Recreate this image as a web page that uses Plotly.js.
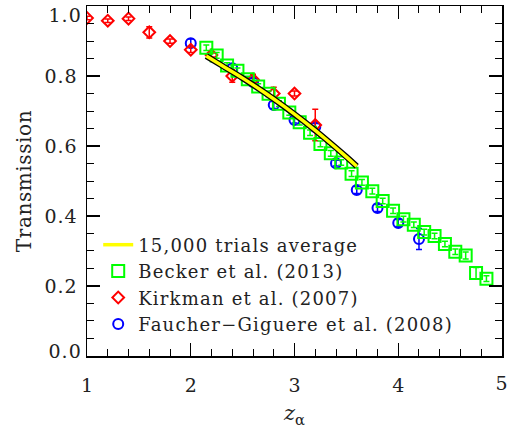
<!DOCTYPE html>
<html>
<head>
<meta charset="utf-8">
<script src="https://cdn.plot.ly/plotly-3.0.1.min.js"></script>
<style>
html,body{margin:0;padding:0;background:#fff;}
#chart{width:507px;height:428px;}
#chart .legendtext{letter-spacing:1.2px;}
#chart .legend .scrollbox{clip-path:none !important;}
#chart .ytick text, #chart .annotation-text{letter-spacing:1px;}
#chart .ytitle{letter-spacing:0.6px;}
</style>
</head>
<body>
<div id="chart"></div>
<script>
// Model: 15,000 trials average
var modelZ = [2.15, 2.3, 2.5, 2.7, 2.9, 3.1, 3.3, 3.5, 3.6];
var modelT = [0.857, 0.830, 0.794, 0.755, 0.713, 0.668, 0.620, 0.569, 0.542];

// Becker et al. (2013)
var beckerZ = [2.15, 2.25, 2.35, 2.45, 2.55, 2.65, 2.75, 2.85, 2.95, 3.05, 3.15, 3.25, 3.35, 3.45,
               3.55, 3.65, 3.75, 3.85, 3.95, 4.05, 4.15, 4.25, 4.35, 4.45, 4.55, 4.65, 4.75, 4.85];
var beckerT = [0.881, 0.859, 0.830, 0.815, 0.791, 0.770, 0.749, 0.721, 0.696, 0.668, 0.638, 0.606, 0.579, 0.553,
               0.521, 0.496, 0.471, 0.443, 0.415, 0.391, 0.375, 0.354, 0.343, 0.320, 0.298, 0.287, 0.237, 0.221];
var beckerErr = [0.008, 0.008, 0.008, 0.008, 0.008, 0.008, 0.008, 0.008, 0.008, 0.008, 0.008, 0.008, 0.008, 0.008,
                 0.008, 0.008, 0.008, 0.008, 0.008, 0.008, 0.008, 0.008, 0.008, 0.008, 0.008, 0.010, 0.016, 0.008];

// Kirkman et al. (2007)
var kirkZ = [1.0, 1.2, 1.4, 1.6, 1.8, 2.0, 2.2, 2.4, 2.6, 2.8, 3.0, 3.2];
var kirkT = [0.966, 0.958, 0.964, 0.925, 0.900, 0.875, 0.860, 0.800, 0.790, 0.750, 0.750, 0.660];
var kirkErr = [0.005, 0.005, 0.005, 0.016, 0.006, 0.008, 0.006, 0.018, 0.015, 0.018, 0.007, 0.045];

// Faucher-Giguere et al. (2008)
var fgZ = [2.0, 2.4, 2.6, 2.8, 3.0, 3.2, 3.4, 3.6, 3.8, 4.0, 4.2];
var fgT = [0.894, 0.822, 0.783, 0.717, 0.674, 0.654, 0.551, 0.474, 0.423, 0.380, 0.334];
var fgErr = [0.012, 0.01, 0.01, 0.01, 0.008, 0.01, 0.008, 0.01, 0.01, 0.01, 0.03];

// Tick labels (end labels are nudged inward, as in the original)
var xTickVals = [1, 2, 3, 4];
var xTickText = ['1', '2', '3', '4'];
var xEndVals = [5];
var xEndText = ['5'];
var yTickVals = [0.2, 0.4, 0.6, 0.8];
var yTickText = ['0.2', '0.4', '0.6', '0.8'];
var yEndVals = [1.0, 0.0];
var yEndText = ['1.0', '0.0'];

var FONT = "DejaVu Serif";

var traces = [
  {
    x: fgZ, y: fgT, type: 'scatter', mode: 'markers',
    name: 'Faucher\u2212Giguere et al. (2008)', legendrank: 4,
    marker: {symbol: 'circle-open', size: 10, color: '#0000ff', line: {width: 2, color: '#0000ff'}},
    error_y: {type: 'data', array: fgErr, visible: true, color: '#0000ff', thickness: 1.5, width: 3}
  },
  {
    x: kirkZ, y: kirkT, type: 'scatter', mode: 'markers',
    name: 'Kirkman et al. (2007)', legendrank: 3,
    marker: {symbol: 'diamond-open', size: 9, color: '#ff0000', line: {width: 2, color: '#ff0000'}},
    error_y: {type: 'data', array: kirkErr, visible: true, color: '#ff0000', thickness: 1.5, width: 3}
  },
  {
    x: beckerZ, y: beckerT, type: 'scatter', mode: 'markers',
    name: 'Becker et al. (2013)', legendrank: 2,
    marker: {symbol: 'square-open', size: 12, color: '#00ff00', line: {width: 2, color: '#00ff00'}},
    error_y: {type: 'data', array: beckerErr, visible: true, color: '#00ff00', thickness: 1.5, width: 3}
  },
  {
    x: modelZ, y: modelT, type: 'scatter', mode: 'lines', showlegend: false,
    line: {color: '#000000', width: 6, shape: 'spline'}, hoverinfo: 'skip'
  },
  {
    x: modelZ, y: modelT, type: 'scatter', mode: 'lines',
    name: '15,000 trials average', legendrank: 1,
    line: {color: '#ffff00', width: 3.5, shape: 'spline'}
  }
];

var tickFont = {family: FONT, size: 19, color: '#222'};

var axisCommon = {
  showgrid: false, zeroline: false, showline: true, linecolor: '#000', linewidth: 1.5,
  mirror: 'allticks', ticks: 'inside', ticklen: 13, tickwidth: 1.2, tickcolor: '#000',
  tickfont: tickFont, ticklabeloverflow: 'allow'
};

var annotations = [];
xEndVals.forEach(function (v, i) {
  annotations.push({
    x: v, xref: 'x', y: 0, yref: 'paper', text: xEndText[i], showarrow: false,
    xanchor: 'center', yanchor: 'middle', xshift: 0, yshift: -27, font: tickFont
  });
});
var yShifts = [-9, 5];
yEndVals.forEach(function (v, i) {
  annotations.push({
    x: 0, xref: 'paper', y: v, yref: 'y', text: yEndText[i], showarrow: false,
    xanchor: 'right', yanchor: 'middle', xshift: -5, yshift: yShifts[i], font: tickFont
  });
});

var layout = {
  width: 507, height: 428,
  margin: {l: 87, r: 5, t: 6, b: 72},
  paper_bgcolor: '#fff', plot_bgcolor: '#fff',
  font: {family: FONT, color: '#222'},
  xaxis: Object.assign({}, axisCommon, {
    range: [0.9999, 5.0001], tickvals: xTickVals, ticktext: xTickText,
    minor: {dtick: 0.2, tick0: 1, ticks: 'inside', ticklen: 7, tickwidth: 1, tickcolor: '#000'},
    ticklabelstandoff: 12,
    title: {text: '<i>z</i><sub>\u03b1</sub>', font: {family: FONT, size: 21, color: '#222'}, standoff: 10}
  }),
  yaxis: Object.assign({}, axisCommon, {
    range: [-0.0001, 1.0001], tickvals: yTickVals, ticktext: yTickText,
    minor: {dtick: 0.05, tick0: 0, ticks: 'inside', ticklen: 7, tickwidth: 1, tickcolor: '#000'},
    ticklabelstandoff: 4,
    title: {text: 'Transmission', font: {family: FONT, size: 20, color: '#222'}, standoff: 10}
  }),
  annotations: annotations,
  showlegend: true,
  legend: {
    x: 0.027, y: 0.37, xanchor: 'left', yanchor: 'top',
    bgcolor: 'rgba(0,0,0,0)', borderwidth: 0,
    font: {family: FONT, size: 18, color: '#222'},
    tracegroupgap: 0, itemwidth: 30
  }
};

Plotly.newPlot('chart', traces, layout, {displayModeBar: false, staticPlot: true});
</script>
</body>
</html>
